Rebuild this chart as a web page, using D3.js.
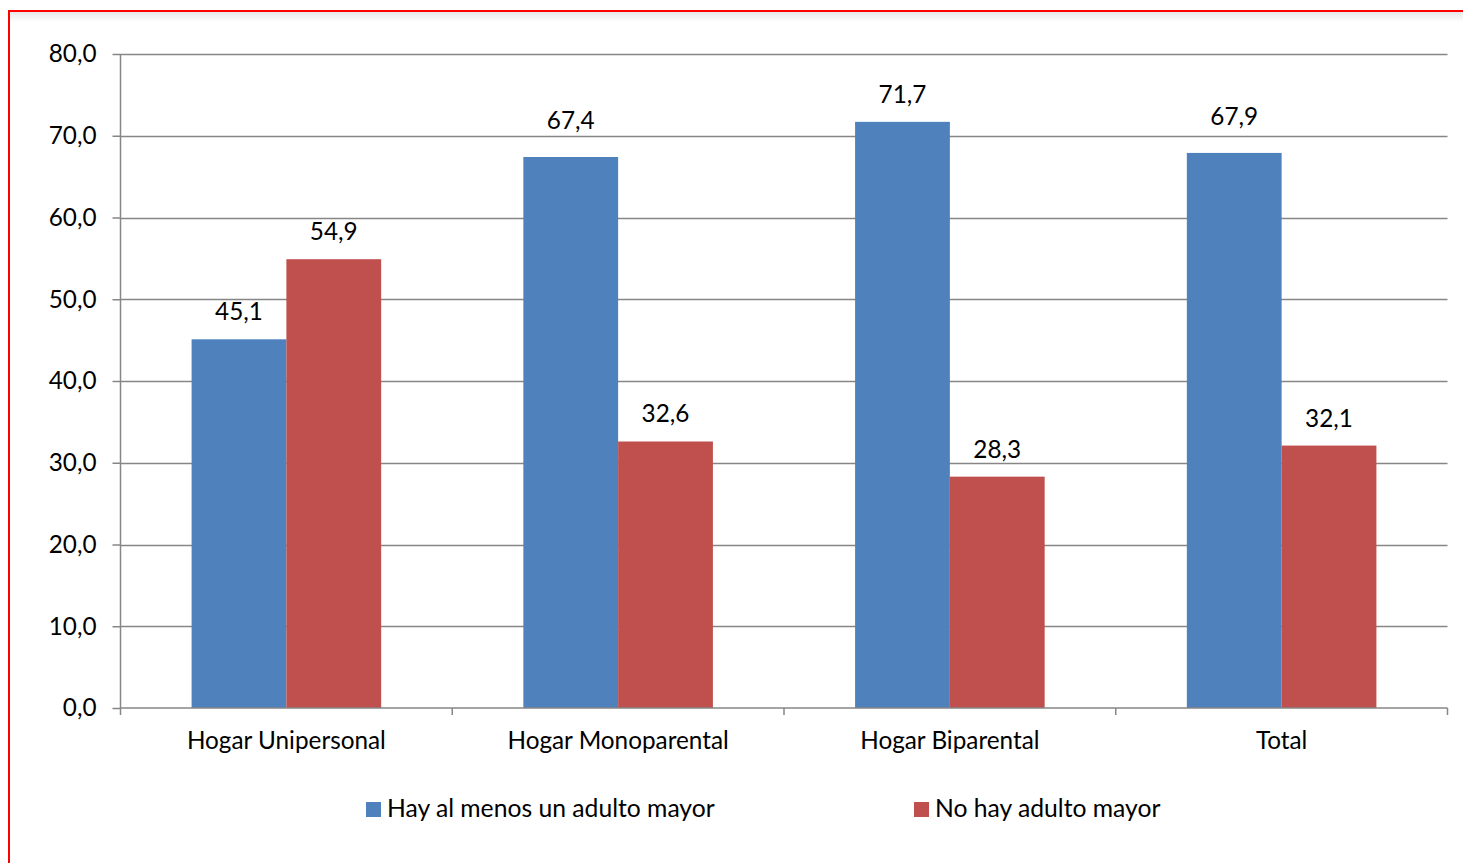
<!DOCTYPE html>
<html><head><meta charset="utf-8">
<script src="https://cdn.jsdelivr.net/npm/d3@7"></script>
<style>
html,body{margin:0;padding:0;background:#fff;}
svg{display:block;font-family:Lato,"Open Sans",sans-serif;}
</style></head>
<body>
<svg id="c" width="1463" height="863"></svg>
<script>
const categories = ["Hogar Unipersonal","Hogar Monoparental","Hogar Biparental","Total"];
const seriesNames = ["Hay al menos un adulto mayor","No hay adulto mayor"];
const seriesA = [45.1, 67.4, 71.7, 67.9];
const seriesB = [54.9, 32.6, 28.3, 32.1];
const yTicks = [0,10,20,30,40,50,60,70,80];
const colors = ["#4F81BD","#C0504D"];

const svg = d3.select("#c");
const fmt = v => v.toFixed(1).replace(".", ",");
const FS = 24.3;

// frame
const defs = svg.append("defs");
const g1 = defs.append("linearGradient").attr("id","sh").attr("x1",0).attr("y1",0).attr("x2",0).attr("y2",1);
g1.append("stop").attr("offset","0").attr("stop-color","#e6e6e6");
g1.append("stop").attr("offset","1").attr("stop-color","#fff");
svg.append("rect").attr("x",10).attr("y",12).attr("width",1453).attr("height",10).attr("fill","url(#sh)");
svg.append("line").attr("x1",9).attr("x2",1463).attr("y1",11).attr("y2",11).attr("stroke","#ff0000").attr("stroke-width",2);
svg.append("line").attr("x1",9).attr("x2",9).attr("y1",10).attr("y2",863).attr("stroke","#ff0000").attr("stroke-width",2);

const L = 120.5, R = 1447.5, T = 54, B = 708;
const y = d3.scaleLinear().domain([0,80]).range([B,T]);
const x0 = d3.scaleBand().domain(categories).range([L,R]).paddingInner(0).paddingOuter(0);
const x1 = d3.scaleBand().domain([0,1]).range([0, x0.bandwidth()]).paddingOuter(0.75).paddingInner(0);

// gridlines
const gridY = yTicks.filter(d=>d>0).map(d=>Math.round(y(d))+0.5);
svg.append("g").selectAll("line").data(gridY).join("line")
  .attr("x1",L).attr("x2",R).attr("y1",d=>d).attr("y2",d=>d)
  .attr("stroke","#868686").attr("stroke-width",1.5);

// label placement: lift label if it would cross a gridline
function labelY(v){
  let b = y(v) - 19;
  if (gridY.some(g => g > b - 17 && g < b + 4)) b -= 9;
  return b;
}

// bars
const data = categories.map((c,i)=>({c, v:[seriesA[i], seriesB[i]]}));
const grp = svg.append("g").selectAll("g").data(data).join("g")
  .attr("transform", d=>`translate(${x0(d.c)},0)`);
grp.selectAll("rect").data(d=>d.v.map((v,k)=>({v,k}))).join("rect")
  .attr("x", d=>x1(d.k)).attr("width", x1.bandwidth())
  .attr("y", d=>y(d.v)).attr("height", d=>B - y(d.v))
  .attr("fill", d=>colors[d.k]);
grp.selectAll("text").data(d=>d.v.map((v,k)=>({v,k}))).join("text")
  .attr("x", d=>x1(d.k)+x1.bandwidth()/2).attr("y", d=>labelY(d.v))
  .attr("text-anchor","middle").attr("font-size",FS).attr("fill","#000")
  .text(d=>fmt(d.v));

// y axis
const yAxis = d3.axisLeft(y).tickValues(yTicks).tickFormat(fmt).tickSize(8).tickPadding(16);
const ya = svg.append("g").attr("transform",`translate(${L},0)`).call(yAxis);
ya.select(".domain").attr("stroke","#868686").attr("stroke-width",1.5).attr("d",`M0,${T}V${B}`);
ya.selectAll(".tick line").attr("stroke","#868686").attr("stroke-width",1.5);
ya.selectAll(".tick text").attr("font-size",FS).attr("fill","#000").attr("font-family","Lato");

// x axis
const xa = svg.append("g").attr("transform",`translate(0,${B})`);
xa.append("line").attr("x1",L).attr("x2",R).attr("y1",0).attr("y2",0).attr("stroke","#868686").attr("stroke-width",1.5);
const bounds = categories.map(c=>x0(c)).concat([x0(categories[categories.length-1])+x0.bandwidth()]);
xa.selectAll("line.t").data(bounds).join("line").attr("class","t")
  .attr("x1",d=>d).attr("x2",d=>d).attr("y1",0).attr("y2",7).attr("stroke","#868686").attr("stroke-width",1.5);
xa.selectAll("text").data(categories).join("text")
  .attr("x",d=>x0(d)+x0.bandwidth()/2).attr("y",41)
  .attr("text-anchor","middle").attr("font-size",FS).attr("fill","#000").text(d=>d);

// legend
const legX = [366, 914];
const lg = svg.append("g").selectAll("g").data(seriesNames).join("g")
  .attr("transform",(d,i)=>`translate(${legX[i]},802)`);
lg.append("rect").attr("width",15).attr("height",15).attr("fill",(d,i)=>colors[i]);
lg.append("text").attr("x",21).attr("y",15).attr("font-size",FS+0.4).attr("fill","#000").text(d=>d);
</script>
</body></html>
